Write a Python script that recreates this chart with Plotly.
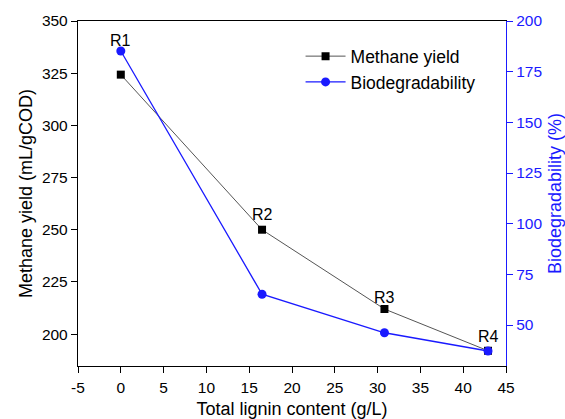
import plotly.graph_objects as go

lignin = [0, 16.5, 30.8, 42.9]
methane_yield = [324.3, 250, 212, 192]
biodegradability = [185.2, 65.2, 46.2, 37.2]
labels = ["R1", "R2", "R3", "R4"]
x_ticks = [-5, 0, 5, 10, 15, 20, 25, 30, 35, 40, 45]
x_ticktext = ["-5", "0", "5", "10", "15", "20", "25", "30", "35", "40", "45"]
y_ticks = [200, 225, 250, 275, 300, 325, 350]
y2_ticks = [50, 75, 100, 125, 150, 175, 200]

FONT = "Liberation Sans, Arial, sans-serif"
BLUE = "#1a1aff"

fig = go.Figure()
fig.add_trace(go.Scatter(
    x=lignin, y=methane_yield, name="Methane yield", mode="lines+markers",
    line=dict(color="#555555", width=1),
    marker=dict(symbol="square", size=8, color="black"),
))
fig.add_trace(go.Scatter(
    x=lignin, y=biodegradability, name="Biodegradability", mode="lines+markers",
    line=dict(color=BLUE, width=1.3),
    marker=dict(symbol="circle", size=9, color=BLUE), yaxis="y2",
))

# labels: R1 and R4 above blue points, R2 and R3 above black points
label_refs = [("y2", biodegradability[0]), ("y", methane_yield[1]),
              ("y", methane_yield[2]), ("y2", biodegradability[3])]
label_shift = [11, 15, 12, 15]
for lab, xv, (ref, yv), sh in zip(labels, lignin, label_refs, label_shift):
    fig.add_annotation(x=xv, y=yv, xref="x", yref=ref, text=lab, showarrow=False,
                       yshift=sh, font=dict(family=FONT, size=16, color="black"))

fig.update_layout(
    width=565, height=419,
    margin=dict(l=78, r=59, t=21, b=53, autoexpand=False),
    paper_bgcolor="white", plot_bgcolor="white",
    font=dict(family=FONT, color="black"),
    showlegend=True,
    legend=dict(x=0.52, y=0.95, xanchor="left", yanchor="top",
                font=dict(family=FONT, size=17.5), bgcolor="rgba(0,0,0,0)",
                tracegroupgap=0, itemwidth=40),
    xaxis=dict(range=[-5, 45], tickvals=x_ticks, ticktext=x_ticktext, showline=True,
               linecolor="black", linewidth=1.3, mirror=True, ticks="outside", ticklen=6,
               tickcolor="black", showgrid=False, zeroline=False, tickfont=dict(size=15.5),
               ticklabelstandoff=1, automargin=False,
               title=dict(text="Total lignin content (g/L)", font=dict(size=18), standoff=16)),
    yaxis=dict(range=[184.7, 350], tickvals=y_ticks, showline=True, linecolor="black",
               linewidth=1.3, ticks="outside", ticklen=6, tickcolor="black",
               showgrid=False, zeroline=False, tickfont=dict(size=15.5), automargin=False,
               title=dict(text="Methane yield (mL/gCOD)", font=dict(size=18), standoff=4)),
    yaxis2=dict(range=[29.8, 200], tickvals=y2_ticks, overlaying="y", side="right",
                showline=True, linecolor=BLUE, linewidth=1.3, ticks="outside", ticklen=6,
                tickcolor=BLUE, showgrid=False, zeroline=False, automargin=False,
                tickfont=dict(size=15.5, color=BLUE),
                title=dict(text="Biodegradability (%)", font=dict(size=18, color=BLUE), standoff=13)),
)

fig.write_html("out.html")
